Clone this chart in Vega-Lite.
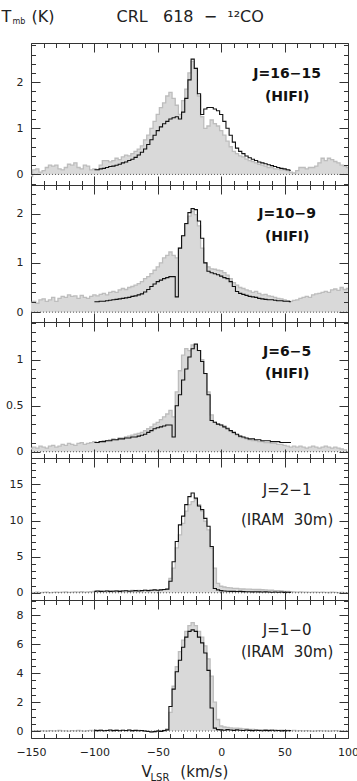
{
"$schema":"https://vega.github.io/schema/vega-lite/v6.json",
"padding":{"left":0,"top":7,"right":0,"bottom":0},
"spacing":0,
"bounds":"flush",
"config":{"view":{"stroke":"#333","strokeWidth":1},"axis":{"grid":false,"domain":false,"tickColor":"#333","tickWidth":1,"labelColor":"#222","labelFont":"DejaVu Sans","labelFontSize":11,"titleFont":"DejaVu Sans","titleColor":"#222","titleFontWeight":"normal"}},
"datasets":{
"obs1":[{"v":-150,"t":-0.05},{"v":-147.5,"t":0.1},{"v":-145,"t":0.12},{"v":-142.5,"t":0.05},{"v":-140,"t":0.08},{"v":-137.5,"t":0.15},{"v":-135,"t":0.2},{"v":-132.5,"t":0.18},{"v":-130,"t":0.2},{"v":-127.5,"t":0.12},{"v":-125,"t":0.1},{"v":-122.5,"t":0.15},{"v":-120,"t":0.22},{"v":-117.5,"t":0.2},{"v":-115,"t":0.25},{"v":-112.5,"t":0.15},{"v":-110,"t":0.12},{"v":-107.5,"t":0.2},{"v":-105,"t":0.18},{"v":-102.5,"t":0.1},{"v":-100,"t":0.12},{"v":-97.5,"t":0.1},{"v":-95,"t":0.2},{"v":-92.5,"t":0.3},{"v":-90,"t":0.3},{"v":-87.5,"t":0.27},{"v":-85,"t":0.3},{"v":-82.5,"t":0.35},{"v":-80,"t":0.32},{"v":-77.5,"t":0.38},{"v":-75,"t":0.42},{"v":-72.5,"t":0.4},{"v":-70,"t":0.45},{"v":-67.5,"t":0.5},{"v":-65,"t":0.55},{"v":-62.5,"t":0.62},{"v":-60,"t":0.75},{"v":-57.5,"t":0.85},{"v":-55,"t":1.0},{"v":-52.5,"t":1.15},{"v":-50,"t":1.3},{"v":-47.5,"t":1.45},{"v":-45,"t":1.55},{"v":-42.5,"t":1.7},{"v":-40,"t":1.78},{"v":-37.5,"t":1.65},{"v":-35,"t":1.5},{"v":-32.5,"t":1.3},{"v":-30,"t":1.6},{"v":-27.5,"t":1.85},{"v":-25,"t":2.2},{"v":-22.5,"t":2.45},{"v":-20,"t":2.3},{"v":-17.5,"t":1.7},{"v":-15,"t":1.25},{"v":-12.5,"t":1.0},{"v":-10,"t":1.05},{"v":-7.5,"t":1.18},{"v":-5,"t":1.1},{"v":-2.5,"t":1.05},{"v":0,"t":0.95},{"v":2.5,"t":0.85},{"v":5,"t":0.72},{"v":7.5,"t":0.6},{"v":10,"t":0.5},{"v":12.5,"t":0.45},{"v":15,"t":0.4},{"v":17.5,"t":0.38},{"v":20,"t":0.33},{"v":22.5,"t":0.3},{"v":25,"t":0.28},{"v":27.5,"t":0.25},{"v":30,"t":0.22},{"v":32.5,"t":0.2},{"v":35,"t":0.18},{"v":37.5,"t":0.15},{"v":40,"t":0.15},{"v":42.5,"t":0.12},{"v":45,"t":0.12},{"v":47.5,"t":0.1},{"v":50,"t":0.1},{"v":52.5,"t":0.08},{"v":55,"t":0.05},{"v":57.5,"t":0.03},{"v":60,"t":0.08},{"v":62.5,"t":0.15},{"v":65,"t":0.15},{"v":67.5,"t":0.12},{"v":70,"t":0.15},{"v":72.5,"t":0.15},{"v":75,"t":0.18},{"v":77.5,"t":0.25},{"v":80,"t":0.35},{"v":82.5,"t":0.3},{"v":85,"t":0.35},{"v":87.5,"t":0.32},{"v":90,"t":0.28},{"v":92.5,"t":0.25},{"v":95,"t":0.2},{"v":97.5,"t":0.18},{"v":100,"t":0.15}],
"mod1":[{"v":-100,"t":0.1},{"v":-97.5,"t":0.1},{"v":-95,"t":0.12},{"v":-92.5,"t":0.13},{"v":-90,"t":0.15},{"v":-87.5,"t":0.17},{"v":-85,"t":0.18},{"v":-82.5,"t":0.2},{"v":-80,"t":0.22},{"v":-77.5,"t":0.25},{"v":-75,"t":0.27},{"v":-72.5,"t":0.3},{"v":-70,"t":0.33},{"v":-67.5,"t":0.37},{"v":-65,"t":0.42},{"v":-62.5,"t":0.48},{"v":-60,"t":0.55},{"v":-57.5,"t":0.65},{"v":-55,"t":0.75},{"v":-52.5,"t":0.85},{"v":-50,"t":0.95},{"v":-47.5,"t":1.03},{"v":-45,"t":1.1},{"v":-42.5,"t":1.15},{"v":-40,"t":1.2},{"v":-37.5,"t":1.23},{"v":-35,"t":1.25},{"v":-32.5,"t":1.2},{"v":-30,"t":1.35},{"v":-27.5,"t":1.65},{"v":-25,"t":2.05},{"v":-22.5,"t":2.5},{"v":-20,"t":2.3},{"v":-17.5,"t":1.75},{"v":-15,"t":1.3},{"v":-12.5,"t":1.42},{"v":-10,"t":1.45},{"v":-7.5,"t":1.45},{"v":-5,"t":1.42},{"v":-2.5,"t":1.38},{"v":0,"t":1.3},{"v":2.5,"t":1.15},{"v":5,"t":1.0},{"v":7.5,"t":0.85},{"v":10,"t":0.7},{"v":12.5,"t":0.57},{"v":15,"t":0.5},{"v":17.5,"t":0.45},{"v":20,"t":0.4},{"v":22.5,"t":0.36},{"v":25,"t":0.33},{"v":27.5,"t":0.3},{"v":30,"t":0.27},{"v":32.5,"t":0.25},{"v":35,"t":0.23},{"v":37.5,"t":0.21},{"v":40,"t":0.19},{"v":42.5,"t":0.17},{"v":45,"t":0.15},{"v":47.5,"t":0.13},{"v":50,"t":0.12},{"v":52.5,"t":0.1},{"v":55,"t":0.09}],
"obs2":[{"v":-150,"t":0.2},{"v":-147.5,"t":0.22},{"v":-145,"t":0.18},{"v":-142.5,"t":0.25},{"v":-140,"t":0.27},{"v":-137.5,"t":0.22},{"v":-135,"t":0.25},{"v":-132.5,"t":0.3},{"v":-130,"t":0.22},{"v":-127.5,"t":0.28},{"v":-125,"t":0.32},{"v":-122.5,"t":0.3},{"v":-120,"t":0.35},{"v":-117.5,"t":0.32},{"v":-115,"t":0.33},{"v":-112.5,"t":0.28},{"v":-110,"t":0.34},{"v":-107.5,"t":0.3},{"v":-105,"t":0.28},{"v":-102.5,"t":0.32},{"v":-100,"t":0.35},{"v":-97.5,"t":0.33},{"v":-95,"t":0.36},{"v":-92.5,"t":0.38},{"v":-90,"t":0.35},{"v":-87.5,"t":0.4},{"v":-85,"t":0.42},{"v":-82.5,"t":0.4},{"v":-80,"t":0.45},{"v":-77.5,"t":0.48},{"v":-75,"t":0.46},{"v":-72.5,"t":0.5},{"v":-70,"t":0.52},{"v":-67.5,"t":0.55},{"v":-65,"t":0.58},{"v":-62.5,"t":0.62},{"v":-60,"t":0.68},{"v":-57.5,"t":0.72},{"v":-55,"t":0.78},{"v":-52.5,"t":0.85},{"v":-50,"t":0.92},{"v":-47.5,"t":1.0},{"v":-45,"t":1.1},{"v":-42.5,"t":1.15},{"v":-40,"t":1.22},{"v":-37.5,"t":1.15},{"v":-35,"t":1.1},{"v":-32.5,"t":1.3},{"v":-30,"t":1.55},{"v":-27.5,"t":1.78},{"v":-25,"t":1.95},{"v":-22.5,"t":2.05},{"v":-20,"t":1.98},{"v":-17.5,"t":1.75},{"v":-15,"t":1.3},{"v":-12.5,"t":1.0},{"v":-10,"t":0.92},{"v":-7.5,"t":0.88},{"v":-5,"t":0.87},{"v":-2.5,"t":0.85},{"v":0,"t":0.84},{"v":2.5,"t":0.8},{"v":5,"t":0.75},{"v":7.5,"t":0.68},{"v":10,"t":0.6},{"v":12.5,"t":0.55},{"v":15,"t":0.5},{"v":17.5,"t":0.48},{"v":20,"t":0.45},{"v":22.5,"t":0.43},{"v":25,"t":0.4},{"v":27.5,"t":0.42},{"v":30,"t":0.38},{"v":32.5,"t":0.35},{"v":35,"t":0.36},{"v":37.5,"t":0.33},{"v":40,"t":0.32},{"v":42.5,"t":0.3},{"v":45,"t":0.28},{"v":47.5,"t":0.27},{"v":50,"t":0.25},{"v":52.5,"t":0.23},{"v":55,"t":0.22},{"v":57.5,"t":0.24},{"v":60,"t":0.25},{"v":62.5,"t":0.28},{"v":65,"t":0.3},{"v":67.5,"t":0.32},{"v":70,"t":0.3},{"v":72.5,"t":0.35},{"v":75,"t":0.37},{"v":77.5,"t":0.38},{"v":80,"t":0.4},{"v":82.5,"t":0.42},{"v":85,"t":0.4},{"v":87.5,"t":0.45},{"v":90,"t":0.47},{"v":92.5,"t":0.44},{"v":95,"t":0.5},{"v":97.5,"t":0.46},{"v":100,"t":0.48}],
"mod2":[{"v":-100,"t":0.21},{"v":-97.5,"t":0.21},{"v":-95,"t":0.22},{"v":-92.5,"t":0.22},{"v":-90,"t":0.23},{"v":-87.5,"t":0.24},{"v":-85,"t":0.25},{"v":-82.5,"t":0.26},{"v":-80,"t":0.27},{"v":-77.5,"t":0.28},{"v":-75,"t":0.29},{"v":-72.5,"t":0.3},{"v":-70,"t":0.32},{"v":-67.5,"t":0.33},{"v":-65,"t":0.35},{"v":-62.5,"t":0.37},{"v":-60,"t":0.41},{"v":-57.5,"t":0.46},{"v":-55,"t":0.52},{"v":-52.5,"t":0.57},{"v":-50,"t":0.62},{"v":-47.5,"t":0.65},{"v":-45,"t":0.68},{"v":-42.5,"t":0.7},{"v":-40,"t":0.72},{"v":-37.5,"t":0.72},{"v":-35,"t":0.31},{"v":-32.5,"t":1.3},{"v":-30,"t":1.55},{"v":-27.5,"t":1.8},{"v":-25,"t":2.02},{"v":-22.5,"t":2.1},{"v":-20,"t":2.08},{"v":-17.5,"t":1.85},{"v":-15,"t":1.5},{"v":-12.5,"t":1.0},{"v":-10,"t":0.83},{"v":-7.5,"t":0.8},{"v":-5,"t":0.78},{"v":-2.5,"t":0.76},{"v":0,"t":0.73},{"v":2.5,"t":0.7},{"v":5,"t":0.68},{"v":7.5,"t":0.62},{"v":10,"t":0.52},{"v":12.5,"t":0.42},{"v":15,"t":0.38},{"v":17.5,"t":0.36},{"v":20,"t":0.34},{"v":22.5,"t":0.32},{"v":25,"t":0.31},{"v":27.5,"t":0.3},{"v":30,"t":0.28},{"v":32.5,"t":0.27},{"v":35,"t":0.26},{"v":37.5,"t":0.25},{"v":40,"t":0.25},{"v":42.5,"t":0.24},{"v":45,"t":0.23},{"v":47.5,"t":0.23},{"v":50,"t":0.22},{"v":52.5,"t":0.22},{"v":55,"t":0.21}],
"obs3":[{"v":-150,"t":0.04},{"v":-147.5,"t":0.05},{"v":-145,"t":0.04},{"v":-142.5,"t":0.06},{"v":-140,"t":0.05},{"v":-137.5,"t":0.04},{"v":-135,"t":0.06},{"v":-132.5,"t":0.07},{"v":-130,"t":0.05},{"v":-127.5,"t":0.06},{"v":-125,"t":0.08},{"v":-122.5,"t":0.07},{"v":-120,"t":0.09},{"v":-117.5,"t":0.08},{"v":-115,"t":0.07},{"v":-112.5,"t":0.09},{"v":-110,"t":0.1},{"v":-107.5,"t":0.08},{"v":-105,"t":0.09},{"v":-102.5,"t":0.1},{"v":-100,"t":0.11},{"v":-97.5,"t":0.1},{"v":-95,"t":0.11},{"v":-92.5,"t":0.12},{"v":-90,"t":0.12},{"v":-87.5,"t":0.13},{"v":-85,"t":0.14},{"v":-82.5,"t":0.13},{"v":-80,"t":0.15},{"v":-77.5,"t":0.15},{"v":-75,"t":0.16},{"v":-72.5,"t":0.17},{"v":-70,"t":0.18},{"v":-67.5,"t":0.19},{"v":-65,"t":0.2},{"v":-62.5,"t":0.21},{"v":-60,"t":0.23},{"v":-57.5,"t":0.25},{"v":-55,"t":0.27},{"v":-52.5,"t":0.3},{"v":-50,"t":0.32},{"v":-47.5,"t":0.35},{"v":-45,"t":0.38},{"v":-42.5,"t":0.41},{"v":-40,"t":0.45},{"v":-37.5,"t":0.38},{"v":-35,"t":0.65},{"v":-32.5,"t":0.88},{"v":-30,"t":1.05},{"v":-27.5,"t":1.12},{"v":-25,"t":1.1},{"v":-22.5,"t":1.16},{"v":-20,"t":1.15},{"v":-17.5,"t":1.1},{"v":-15,"t":1.0},{"v":-12.5,"t":0.85},{"v":-10,"t":0.65},{"v":-7.5,"t":0.4},{"v":-5,"t":0.32},{"v":-2.5,"t":0.3},{"v":0,"t":0.29},{"v":2.5,"t":0.28},{"v":5,"t":0.26},{"v":7.5,"t":0.23},{"v":10,"t":0.2},{"v":12.5,"t":0.18},{"v":15,"t":0.16},{"v":17.5,"t":0.15},{"v":20,"t":0.14},{"v":22.5,"t":0.13},{"v":25,"t":0.12},{"v":27.5,"t":0.12},{"v":30,"t":0.11},{"v":32.5,"t":0.11},{"v":35,"t":0.1},{"v":37.5,"t":0.1},{"v":40,"t":0.09},{"v":42.5,"t":0.09},{"v":45,"t":0.08},{"v":47.5,"t":0.08},{"v":50,"t":0.07},{"v":52.5,"t":0.06},{"v":55,"t":0.05},{"v":57.5,"t":0.06},{"v":60,"t":0.05},{"v":62.5,"t":0.06},{"v":65,"t":0.05},{"v":67.5,"t":0.04},{"v":70,"t":0.05},{"v":72.5,"t":0.06},{"v":75,"t":0.05},{"v":77.5,"t":0.04},{"v":80,"t":0.05},{"v":82.5,"t":0.06},{"v":85,"t":0.05},{"v":87.5,"t":0.04},{"v":90,"t":0.05},{"v":92.5,"t":0.04},{"v":95,"t":0.03},{"v":97.5,"t":0.02},{"v":100,"t":0.0}],
"mod3":[{"v":-100,"t":0.1},{"v":-97.5,"t":0.1},{"v":-95,"t":0.11},{"v":-92.5,"t":0.11},{"v":-90,"t":0.12},{"v":-87.5,"t":0.12},{"v":-85,"t":0.13},{"v":-82.5,"t":0.13},{"v":-80,"t":0.14},{"v":-77.5,"t":0.14},{"v":-75,"t":0.15},{"v":-72.5,"t":0.15},{"v":-70,"t":0.16},{"v":-67.5,"t":0.16},{"v":-65,"t":0.17},{"v":-62.5,"t":0.18},{"v":-60,"t":0.19},{"v":-57.5,"t":0.21},{"v":-55,"t":0.23},{"v":-52.5,"t":0.25},{"v":-50,"t":0.26},{"v":-47.5,"t":0.27},{"v":-45,"t":0.28},{"v":-42.5,"t":0.29},{"v":-40,"t":0.29},{"v":-37.5,"t":0.16},{"v":-35,"t":0.5},{"v":-32.5,"t":0.62},{"v":-30,"t":0.78},{"v":-27.5,"t":0.9},{"v":-25,"t":1.03},{"v":-22.5,"t":1.12},{"v":-20,"t":1.17},{"v":-17.5,"t":1.1},{"v":-15,"t":0.98},{"v":-12.5,"t":0.85},{"v":-10,"t":0.62},{"v":-7.5,"t":0.34},{"v":-5,"t":0.32},{"v":-2.5,"t":0.3},{"v":0,"t":0.29},{"v":2.5,"t":0.27},{"v":5,"t":0.25},{"v":7.5,"t":0.23},{"v":10,"t":0.21},{"v":12.5,"t":0.19},{"v":15,"t":0.17},{"v":17.5,"t":0.16},{"v":20,"t":0.15},{"v":22.5,"t":0.14},{"v":25,"t":0.14},{"v":27.5,"t":0.13},{"v":30,"t":0.13},{"v":32.5,"t":0.12},{"v":35,"t":0.12},{"v":37.5,"t":0.12},{"v":40,"t":0.11},{"v":42.5,"t":0.11},{"v":45,"t":0.11},{"v":47.5,"t":0.1},{"v":50,"t":0.1},{"v":52.5,"t":0.1},{"v":55,"t":0.1}],
"obs4":[{"v":-150,"t":0.05},{"v":-147.5,"t":0.0},{"v":-145,"t":0.08},{"v":-142.5,"t":0.02},{"v":-140,"t":0.05},{"v":-137.5,"t":0.1},{"v":-135,"t":0.03},{"v":-132.5,"t":0.06},{"v":-130,"t":0.1},{"v":-127.5,"t":0.05},{"v":-125,"t":0.08},{"v":-122.5,"t":0.12},{"v":-120,"t":0.06},{"v":-117.5,"t":0.1},{"v":-115,"t":0.12},{"v":-112.5,"t":0.08},{"v":-110,"t":0.15},{"v":-107.5,"t":0.1},{"v":-105,"t":0.12},{"v":-102.5,"t":0.15},{"v":-100,"t":0.2},{"v":-97.5,"t":0.18},{"v":-95,"t":0.22},{"v":-92.5,"t":0.2},{"v":-90,"t":0.25},{"v":-87.5,"t":0.22},{"v":-85,"t":0.25},{"v":-82.5,"t":0.28},{"v":-80,"t":0.25},{"v":-77.5,"t":0.3},{"v":-75,"t":0.28},{"v":-72.5,"t":0.3},{"v":-70,"t":0.32},{"v":-67.5,"t":0.3},{"v":-65,"t":0.33},{"v":-62.5,"t":0.3},{"v":-60,"t":0.35},{"v":-57.5,"t":0.32},{"v":-55,"t":0.35},{"v":-52.5,"t":0.38},{"v":-50,"t":0.35},{"v":-47.5,"t":0.4},{"v":-45,"t":0.42},{"v":-42.5,"t":0.5},{"v":-40,"t":2.0},{"v":-37.5,"t":3.4},{"v":-35,"t":6.2},{"v":-32.5,"t":8.0},{"v":-30,"t":9.6},{"v":-27.5,"t":11.3},{"v":-25,"t":12.2},{"v":-22.5,"t":12.6},{"v":-20,"t":12.9},{"v":-17.5,"t":12.2},{"v":-15,"t":11.3},{"v":-12.5,"t":9.9},{"v":-10,"t":8.7},{"v":-7.5,"t":6.2},{"v":-5,"t":3.4},{"v":-2.5,"t":1.3},{"v":0,"t":0.9},{"v":2.5,"t":0.8},{"v":5,"t":0.72},{"v":7.5,"t":0.68},{"v":10,"t":0.62},{"v":12.5,"t":0.6},{"v":15,"t":0.55},{"v":17.5,"t":0.52},{"v":20,"t":0.5},{"v":22.5,"t":0.5},{"v":25,"t":0.48},{"v":27.5,"t":0.45},{"v":30,"t":0.45},{"v":32.5,"t":0.42},{"v":35,"t":0.4},{"v":37.5,"t":0.38},{"v":40,"t":0.35},{"v":42.5,"t":0.3},{"v":45,"t":0.28},{"v":47.5,"t":0.25},{"v":50,"t":0.2},{"v":52.5,"t":0.18},{"v":55,"t":0.15},{"v":57.5,"t":0.12},{"v":60,"t":0.1},{"v":62.5,"t":0.12},{"v":65,"t":0.08},{"v":67.5,"t":0.1},{"v":70,"t":0.06},{"v":72.5,"t":0.08},{"v":75,"t":0.1},{"v":77.5,"t":0.05},{"v":80,"t":0.08},{"v":82.5,"t":0.06},{"v":85,"t":0.04},{"v":87.5,"t":0.07},{"v":90,"t":0.05},{"v":92.5,"t":0.03},{"v":95,"t":0.05},{"v":97.5,"t":0.02},{"v":100,"t":0.03}],
"mod4":[{"v":-100,"t":0.2},{"v":-97.5,"t":0.25},{"v":-95,"t":0.2},{"v":-92.5,"t":0.22},{"v":-90,"t":0.25},{"v":-87.5,"t":0.2},{"v":-85,"t":0.22},{"v":-82.5,"t":0.25},{"v":-80,"t":0.2},{"v":-77.5,"t":0.25},{"v":-75,"t":0.28},{"v":-72.5,"t":0.22},{"v":-70,"t":0.25},{"v":-67.5,"t":0.3},{"v":-65,"t":0.25},{"v":-62.5,"t":0.3},{"v":-60,"t":0.35},{"v":-57.5,"t":0.3},{"v":-55,"t":0.35},{"v":-52.5,"t":0.4},{"v":-50,"t":0.35},{"v":-47.5,"t":0.4},{"v":-45,"t":0.45},{"v":-42.5,"t":0.5},{"v":-40,"t":1.6},{"v":-37.5,"t":4.3},{"v":-35,"t":7.1},{"v":-32.5,"t":9.4},{"v":-30,"t":10.6},{"v":-27.5,"t":12.2},{"v":-25,"t":13.3},{"v":-22.5,"t":13.8},{"v":-20,"t":13.1},{"v":-17.5,"t":12.0},{"v":-15,"t":11.5},{"v":-12.5,"t":10.3},{"v":-10,"t":9.2},{"v":-7.5,"t":6.4},{"v":-5,"t":0.6},{"v":-2.5,"t":0.4},{"v":0,"t":0.3},{"v":2.5,"t":0.25},{"v":5,"t":0.22},{"v":7.5,"t":0.2},{"v":10,"t":0.2},{"v":12.5,"t":0.18},{"v":15,"t":0.2},{"v":17.5,"t":0.16},{"v":20,"t":0.15},{"v":22.5,"t":0.15},{"v":25,"t":0.12},{"v":27.5,"t":0.14},{"v":30,"t":0.12},{"v":32.5,"t":0.1},{"v":35,"t":0.12},{"v":37.5,"t":0.1},{"v":40,"t":0.08},{"v":42.5,"t":0.1},{"v":45,"t":0.08},{"v":47.5,"t":0.1},{"v":50,"t":0.06},{"v":52.5,"t":0.08},{"v":55,"t":0.05}],
"obs5":[{"v":-150,"t":0.02},{"v":-147.5,"t":0.0},{"v":-145,"t":0.03},{"v":-142.5,"t":0.01},{"v":-140,"t":0.02},{"v":-137.5,"t":0.0},{"v":-135,"t":0.03},{"v":-132.5,"t":0.01},{"v":-130,"t":0.02},{"v":-127.5,"t":0.04},{"v":-125,"t":0.01},{"v":-122.5,"t":0.02},{"v":-120,"t":0.0},{"v":-117.5,"t":0.03},{"v":-115,"t":0.02},{"v":-112.5,"t":0.04},{"v":-110,"t":0.02},{"v":-107.5,"t":0.0},{"v":-105,"t":0.03},{"v":-102.5,"t":0.05},{"v":-100,"t":0.02},{"v":-97.5,"t":0.04},{"v":-95,"t":0.06},{"v":-92.5,"t":0.03},{"v":-90,"t":0.05},{"v":-87.5,"t":0.02},{"v":-85,"t":0.04},{"v":-82.5,"t":0.06},{"v":-80,"t":0.03},{"v":-77.5,"t":0.05},{"v":-75,"t":0.02},{"v":-72.5,"t":0.04},{"v":-70,"t":0.0},{"v":-67.5,"t":0.03},{"v":-65,"t":0.05},{"v":-62.5,"t":0.02},{"v":-60,"t":-0.02},{"v":-57.5,"t":0.0},{"v":-55,"t":-0.05},{"v":-52.5,"t":-0.03},{"v":-50,"t":0.0},{"v":-47.5,"t":0.02},{"v":-45,"t":0.05},{"v":-42.5,"t":0.15},{"v":-40,"t":1.3},{"v":-37.5,"t":3.1},{"v":-35,"t":4.45},{"v":-32.5,"t":5.5},{"v":-30,"t":6.3},{"v":-27.5,"t":6.9},{"v":-25,"t":7.3},{"v":-22.5,"t":7.5},{"v":-20,"t":7.3},{"v":-17.5,"t":6.9},{"v":-15,"t":6.5},{"v":-12.5,"t":5.9},{"v":-10,"t":5.0},{"v":-7.5,"t":3.8},{"v":-5,"t":2.0},{"v":-2.5,"t":0.8},{"v":0,"t":0.35},{"v":2.5,"t":0.28},{"v":5,"t":0.25},{"v":7.5,"t":0.22},{"v":10,"t":0.2},{"v":12.5,"t":0.2},{"v":15,"t":0.18},{"v":17.5,"t":0.15},{"v":20,"t":0.15},{"v":22.5,"t":0.12},{"v":25,"t":0.12},{"v":27.5,"t":0.1},{"v":30,"t":0.1},{"v":32.5,"t":0.08},{"v":35,"t":0.1},{"v":37.5,"t":0.08},{"v":40,"t":0.06},{"v":42.5,"t":0.08},{"v":45,"t":0.05},{"v":47.5,"t":0.06},{"v":50,"t":0.04},{"v":52.5,"t":0.05},{"v":55,"t":0.03},{"v":57.5,"t":0.04},{"v":60,"t":0.02},{"v":62.5,"t":0.03},{"v":65,"t":0.01},{"v":67.5,"t":0.03},{"v":70,"t":0.02},{"v":72.5,"t":0.0},{"v":75,"t":0.02},{"v":77.5,"t":0.03},{"v":80,"t":0.01},{"v":82.5,"t":0.02},{"v":85,"t":0.0},{"v":87.5,"t":0.02},{"v":90,"t":0.03},{"v":92.5,"t":0.01},{"v":95,"t":0.02},{"v":97.5,"t":0.0},{"v":100,"t":0.01}],
"mod5":[{"v":-100,"t":0.05},{"v":-97.5,"t":0.03},{"v":-95,"t":0.06},{"v":-92.5,"t":0.02},{"v":-90,"t":0.04},{"v":-87.5,"t":0.07},{"v":-85,"t":0.03},{"v":-82.5,"t":0.05},{"v":-80,"t":0.02},{"v":-77.5,"t":0.06},{"v":-75,"t":0.04},{"v":-72.5,"t":0.07},{"v":-70,"t":0.03},{"v":-67.5,"t":0.05},{"v":-65,"t":0.02},{"v":-62.5,"t":0.04},{"v":-60,"t":0.0},{"v":-57.5,"t":-0.03},{"v":-55,"t":-0.06},{"v":-52.5,"t":-0.04},{"v":-50,"t":0.0},{"v":-47.5,"t":-0.02},{"v":-45,"t":0.03},{"v":-42.5,"t":0.08},{"v":-40,"t":1.7},{"v":-37.5,"t":2.9},{"v":-35,"t":4.1},{"v":-32.5,"t":4.9},{"v":-30,"t":5.8},{"v":-27.5,"t":6.5},{"v":-25,"t":6.9},{"v":-22.5,"t":7.0},{"v":-20,"t":6.9},{"v":-17.5,"t":6.5},{"v":-15,"t":6.1},{"v":-12.5,"t":5.4},{"v":-10,"t":4.2},{"v":-7.5,"t":1.6},{"v":-5,"t":0.2},{"v":-2.5,"t":0.1},{"v":0,"t":0.08},{"v":2.5,"t":0.06},{"v":5,"t":0.1},{"v":7.5,"t":0.07},{"v":10,"t":0.05},{"v":12.5,"t":0.08},{"v":15,"t":0.06},{"v":17.5,"t":0.04},{"v":20,"t":0.07},{"v":22.5,"t":0.05},{"v":25,"t":0.03},{"v":27.5,"t":0.06},{"v":30,"t":0.04},{"v":32.5,"t":0.02},{"v":35,"t":0.05},{"v":37.5,"t":0.03},{"v":40,"t":0.06},{"v":42.5,"t":0.02},{"v":45,"t":0.04},{"v":47.5,"t":0.01},{"v":50,"t":0.03},{"v":52.5,"t":0.02},{"v":55,"t":0.03}]
},
"vconcat":[
{"width":317,"height":142,"resolve":{"axis":{"x":"independent","y":"independent"}},
"layer":[
{"data":{"name":"obs1"},"mark":{"type":"area","interpolate":"step","color":"#d9d9d9"},
"encoding":{"x":{"field":"v","type":"quantitative","scale":{"domain":[-150,100],"nice":false},"axis":{"orient":"bottom","values":[-150,-100,-50,0,50,100],"tickSize":-9,"labels":false,"title":null,"zindex":1}},
"y":{"field":"t","type":"quantitative","scale":{"domain":[-0.23,2.85],"nice":false,"zero":false},"axis":{"orient":"left","values":[0,1,2],"tickSize":-9,"labelPadding":17,"format":"~g","zindex":1,"title":"T\u00a0\u00a0\u00a0\u00a0(K)","titleAngle":0,"titleAlign":"left","titleBaseline":"alphabetic","titleX":-30,"titleY":-22,"titleFontSize":16}},
"y2":{"datum":0}}},
{"data":{"name":"obs1"},"mark":{"type":"line","interpolate":"step","color":"#bdbdbd","strokeWidth":1.3},
"encoding":{"x":{"field":"v","type":"quantitative","axis":{"orient":"bottom","values":[-140,-130,-120,-110,-90,-80,-70,-60,-40,-30,-20,-10,10,20,30,40,60,70,80,90],"tickSize":-4.5,"labels":false,"title":null,"zindex":1}},
"y":{"field":"t","type":"quantitative","axis":{"orient":"left","values":[-0.2,0.2,0.4,0.6,0.8,1.2,1.4,1.6,1.8,2.2,2.4,2.6,2.8],"tickSize":-4.5,"labels":false,"zindex":1,"title":"mb","titleAngle":0,"titleAlign":"left","titleBaseline":"alphabetic","titleX":-19,"titleY":-19.5,"titleFontSize":8}}}},
{"data":{"values":[{}]},"mark":{"type":"rule","strokeDash":[1,2],"color":"#555"},
"encoding":{"x":{"datum":-150,"type":"quantitative","axis":{"orient":"top","values":[-150,-100,-50,0,50,100],"tickSize":-9,"labels":false,"zindex":1,"title":"CRL\u00a0\u00a0\u00a0618\u00a0\u00a0\u2212\u00a0\u00a0\u00b9\u00b2CO","titleX":85,"titleY":-22,"titleAlign":"left","titleBaseline":"alphabetic","titleFontSize":16}},"x2":{"datum":100},
"y":{"datum":0,"type":"quantitative","axis":{"orient":"right","values":[0,1,2],"tickSize":-9,"labels":false,"title":null,"zindex":1}}}},
{"data":{"name":"mod1"},"mark":{"type":"line","interpolate":"step","color":"#111","strokeWidth":1.1},
"encoding":{"x":{"field":"v","type":"quantitative","axis":{"orient":"top","values":[-140,-130,-120,-110,-90,-80,-70,-60,-40,-30,-20,-10,10,20,30,40,60,70,80,90],"tickSize":-4.5,"labels":false,"title":null,"zindex":1}},
"y":{"field":"t","type":"quantitative","axis":{"orient":"right","values":[-0.2,0.2,0.4,0.6,0.8,1.2,1.4,1.6,1.8,2.2,2.4,2.6,2.8],"tickSize":-4.5,"labels":false,"title":null,"zindex":1}}}},
{"data":{"values":[{}]},"mark":{"type":"text","align":"center","baseline":"top","font":"DejaVu Sans","fontWeight":"bold","fontSize":14,"color":"#111"},
"encoding":{"x":{"datum":52,"type":"quantitative","axis":null},"y":{"datum":2.34,"type":"quantitative","axis":null},"text":{"value":"J=16\u221215"}}},
{"data":{"values":[{}]},"mark":{"type":"text","align":"center","baseline":"top","font":"DejaVu Sans","fontWeight":"bold","fontSize":14,"color":"#111"},
"encoding":{"x":{"datum":52,"type":"quantitative","axis":null},"y":{"datum":1.83,"type":"quantitative","axis":null},"text":{"value":"(HIFI)"}}}
]},
{"width":317,"height":137,"resolve":{"axis":{"x":"independent","y":"independent"}},
"layer":[
{"data":{"name":"obs2"},"mark":{"type":"area","interpolate":"step","color":"#d9d9d9"},
"encoding":{"x":{"field":"v","type":"quantitative","scale":{"domain":[-150,100],"nice":false},"axis":{"orient":"bottom","values":[-150,-100,-50,0,50,100],"tickSize":-9,"labels":false,"title":null,"zindex":1}},
"y":{"field":"t","type":"quantitative","scale":{"domain":[-0.2,2.58],"nice":false,"zero":false},"axis":{"orient":"left","values":[0,1,2],"tickSize":-9,"labelPadding":17,"format":"~g","zindex":1,"title":null}},
"y2":{"datum":0}}},
{"data":{"name":"obs2"},"mark":{"type":"line","interpolate":"step","color":"#bdbdbd","strokeWidth":1.3},
"encoding":{"x":{"field":"v","type":"quantitative","axis":{"orient":"bottom","values":[-140,-130,-120,-110,-90,-80,-70,-60,-40,-30,-20,-10,10,20,30,40,60,70,80,90],"tickSize":-4.5,"labels":false,"title":null,"zindex":1}},
"y":{"field":"t","type":"quantitative","axis":{"orient":"left","values":[0.2,0.4,0.6,0.8,1.2,1.4,1.6,1.8,2.2,2.4],"tickSize":-4.5,"labels":false,"title":null,"zindex":1}}}},
{"data":{"values":[{}]},"mark":{"type":"rule","strokeDash":[1,2],"color":"#555"},
"encoding":{"x":{"datum":-150,"type":"quantitative","axis":{"orient":"top","values":[-150,-100,-50,0,50,100],"tickSize":-9,"labels":false,"title":null,"zindex":1}},"x2":{"datum":100},
"y":{"datum":0,"type":"quantitative","axis":{"orient":"right","values":[0,1,2],"tickSize":-9,"labels":false,"title":null,"zindex":1}}}},
{"data":{"name":"mod2"},"mark":{"type":"line","interpolate":"step","color":"#111","strokeWidth":1.1},
"encoding":{"x":{"field":"v","type":"quantitative","axis":{"orient":"top","values":[-140,-130,-120,-110,-90,-80,-70,-60,-40,-30,-20,-10,10,20,30,40,60,70,80,90],"tickSize":-4.5,"labels":false,"title":null,"zindex":1}},
"y":{"field":"t","type":"quantitative","axis":{"orient":"right","values":[0.2,0.4,0.6,0.8,1.2,1.4,1.6,1.8,2.2,2.4],"tickSize":-4.5,"labels":false,"title":null,"zindex":1}}}},
{"data":{"values":[{}]},"mark":{"type":"text","align":"center","baseline":"top","font":"DejaVu Sans","fontWeight":"bold","fontSize":14,"color":"#111"},
"encoding":{"x":{"datum":52,"type":"quantitative","axis":null},"y":{"datum":2.14,"type":"quantitative","axis":null},"text":{"value":"J=10\u22129"}}},
{"data":{"values":[{}]},"mark":{"type":"text","align":"center","baseline":"top","font":"DejaVu Sans","fontWeight":"bold","fontSize":14,"color":"#111"},
"encoding":{"x":{"datum":52,"type":"quantitative","axis":null},"y":{"datum":1.67,"type":"quantitative","axis":null},"text":{"value":"(HIFI)"}}}
]},
{"width":317,"height":136,"resolve":{"axis":{"x":"independent","y":"independent"}},
"layer":[
{"data":{"name":"obs3"},"mark":{"type":"area","interpolate":"step","color":"#d9d9d9"},
"encoding":{"x":{"field":"v","type":"quantitative","scale":{"domain":[-150,100],"nice":false},"axis":{"orient":"bottom","values":[-150,-100,-50,0,50,100],"tickSize":-9,"labels":false,"title":null,"zindex":1}},
"y":{"field":"t","type":"quantitative","scale":{"domain":[-0.068,1.41],"nice":false,"zero":false},"axis":{"orient":"left","values":[0,0.5,1],"tickSize":-9,"labelPadding":17,"format":"~g","zindex":1,"title":null}},
"y2":{"datum":0}}},
{"data":{"name":"obs3"},"mark":{"type":"line","interpolate":"step","color":"#bdbdbd","strokeWidth":1.3},
"encoding":{"x":{"field":"v","type":"quantitative","axis":{"orient":"bottom","values":[-140,-130,-120,-110,-90,-80,-70,-60,-40,-30,-20,-10,10,20,30,40,60,70,80,90],"tickSize":-4.5,"labels":false,"title":null,"zindex":1}},
"y":{"field":"t","type":"quantitative","axis":{"orient":"left","values":[0.1,0.2,0.3,0.4,0.6,0.7,0.8,0.9,1.1,1.2,1.3,1.4],"tickSize":-4.5,"labels":false,"title":null,"zindex":1}}}},
{"data":{"values":[{}]},"mark":{"type":"rule","strokeDash":[1,2],"color":"#555"},
"encoding":{"x":{"datum":-150,"type":"quantitative","axis":{"orient":"top","values":[-150,-100,-50,0,50,100],"tickSize":-9,"labels":false,"title":null,"zindex":1}},"x2":{"datum":100},
"y":{"datum":0,"type":"quantitative","axis":{"orient":"right","values":[0,0.5,1],"tickSize":-9,"labels":false,"title":null,"zindex":1}}}},
{"data":{"name":"mod3"},"mark":{"type":"line","interpolate":"step","color":"#111","strokeWidth":1.1},
"encoding":{"x":{"field":"v","type":"quantitative","axis":{"orient":"top","values":[-140,-130,-120,-110,-90,-80,-70,-60,-40,-30,-20,-10,10,20,30,40,60,70,80,90],"tickSize":-4.5,"labels":false,"title":null,"zindex":1}},
"y":{"field":"t","type":"quantitative","axis":{"orient":"right","values":[0.1,0.2,0.3,0.4,0.6,0.7,0.8,0.9,1.1,1.2,1.3,1.4],"tickSize":-4.5,"labels":false,"title":null,"zindex":1}}}},
{"data":{"values":[{}]},"mark":{"type":"text","align":"center","baseline":"top","font":"DejaVu Sans","fontWeight":"bold","fontSize":14,"color":"#111"},
"encoding":{"x":{"datum":52,"type":"quantitative","axis":null},"y":{"datum":1.16,"type":"quantitative","axis":null},"text":{"value":"J=6\u22125"}}},
{"data":{"values":[{}]},"mark":{"type":"text","align":"center","baseline":"top","font":"DejaVu Sans","fontWeight":"bold","fontSize":14,"color":"#111"},
"encoding":{"x":{"datum":52,"type":"quantitative","axis":null},"y":{"datum":0.924,"type":"quantitative","axis":null},"text":{"value":"(HIFI)"}}}
]},
{"width":317,"height":142,"resolve":{"axis":{"x":"independent","y":"independent"}},
"layer":[
{"data":{"name":"obs4"},"mark":{"type":"area","interpolate":"step","color":"#d9d9d9"},
"encoding":{"x":{"field":"v","type":"quantitative","scale":{"domain":[-150,100],"nice":false},"axis":{"orient":"bottom","values":[-150,-100,-50,0,50,100],"tickSize":-9,"labels":false,"title":null,"zindex":1}},
"y":{"field":"t","type":"quantitative","scale":{"domain":[-1,18.65],"nice":false,"zero":false},"axis":{"orient":"left","values":[0,5,10,15],"tickSize":-9,"labelPadding":17,"format":"~g","zindex":1,"title":null}},
"y2":{"datum":0}}},
{"data":{"name":"obs4"},"mark":{"type":"line","interpolate":"step","color":"#bdbdbd","strokeWidth":1.3},
"encoding":{"x":{"field":"v","type":"quantitative","axis":{"orient":"bottom","values":[-140,-130,-120,-110,-90,-80,-70,-60,-40,-30,-20,-10,10,20,30,40,60,70,80,90],"tickSize":-4.5,"labels":false,"title":null,"zindex":1}},
"y":{"field":"t","type":"quantitative","axis":{"orient":"left","values":[1,2,3,4,6,7,8,9,11,12,13,14,16,17,18],"tickSize":-4.5,"labels":false,"title":null,"zindex":1}}}},
{"data":{"values":[{}]},"mark":{"type":"rule","strokeDash":[1,2],"color":"#555"},
"encoding":{"x":{"datum":-150,"type":"quantitative","axis":{"orient":"top","values":[-150,-100,-50,0,50,100],"tickSize":-9,"labels":false,"title":null,"zindex":1}},"x2":{"datum":100},
"y":{"datum":0,"type":"quantitative","axis":{"orient":"right","values":[0,5,10,15],"tickSize":-9,"labels":false,"title":null,"zindex":1}}}},
{"data":{"name":"mod4"},"mark":{"type":"line","interpolate":"step","color":"#111","strokeWidth":1.1},
"encoding":{"x":{"field":"v","type":"quantitative","axis":{"orient":"top","values":[-140,-130,-120,-110,-90,-80,-70,-60,-40,-30,-20,-10,10,20,30,40,60,70,80,90],"tickSize":-4.5,"labels":false,"title":null,"zindex":1}},
"y":{"field":"t","type":"quantitative","axis":{"orient":"right","values":[1,2,3,4,6,7,8,9,11,12,13,14,16,17,18],"tickSize":-4.5,"labels":false,"title":null,"zindex":1}}}},
{"data":{"values":[{}]},"mark":{"type":"text","align":"center","baseline":"top","font":"DejaVu Sans","fontSize":15,"color":"#222"},
"encoding":{"x":{"datum":52,"type":"quantitative","axis":null},"y":{"datum":15.15,"type":"quantitative","axis":null},"text":{"value":"J=2\u22121"}}},
{"data":{"values":[{}]},"mark":{"type":"text","align":"center","baseline":"top","font":"DejaVu Sans","fontSize":15,"color":"#222"},
"encoding":{"x":{"datum":52,"type":"quantitative","axis":null},"y":{"datum":11.04,"type":"quantitative","axis":null},"text":{"value":"(IRAM\u00a0\u00a030m)"}}}
]},
{"width":317,"height":138,"resolve":{"axis":{"x":"independent","y":"independent"}},
"layer":[
{"data":{"name":"obs5"},"mark":{"type":"area","interpolate":"step","color":"#d9d9d9"},
"encoding":{"x":{"field":"v","type":"quantitative","scale":{"domain":[-150,100],"nice":false},"axis":{"orient":"bottom","values":[-150,-100,-50,0,50,100],"tickSize":-9,"labels":true,"labelPadding":17,"labelOverlap":false,"labelFlush":false,"format":"d","zindex":1,"title":"V\u00a0\u00a0\u00a0\u00a0\u00a0\u00a0(km/s)","titleX":110,"titleY":38,"titleAlign":"left","titleBaseline":"alphabetic","titleFontSize":15}},
"y":{"field":"t","type":"quantitative","scale":{"domain":[-0.48,9.07],"nice":false,"zero":false},"axis":{"orient":"left","values":[0,2,4,6,8],"tickSize":-9,"labelPadding":17,"format":"~g","zindex":1,"title":null}},
"y2":{"datum":0}}},
{"data":{"name":"obs5"},"mark":{"type":"line","interpolate":"step","color":"#bdbdbd","strokeWidth":1.3},
"encoding":{"x":{"field":"v","type":"quantitative","axis":{"orient":"bottom","values":[-140,-130,-120,-110,-90,-80,-70,-60,-40,-30,-20,-10,10,20,30,40,60,70,80,90],"tickSize":-4.5,"labels":false,"title":null,"zindex":1}},
"y":{"field":"t","type":"quantitative","axis":{"orient":"left","values":[0.5,1,1.5,2.5,3,3.5,4.5,5,5.5,6.5,7,7.5,8.5,9],"tickSize":-4.5,"labels":false,"title":null,"zindex":1}}}},
{"data":{"values":[{}]},"mark":{"type":"rule","strokeDash":[1,2],"color":"#555"},
"encoding":{"x":{"datum":-150,"type":"quantitative","axis":{"orient":"top","values":[-150,-100,-50,0,50,100],"tickSize":-9,"labels":false,"title":null,"zindex":1}},"x2":{"datum":100},
"y":{"datum":0,"type":"quantitative","axis":{"orient":"right","values":[0,2,4,6,8],"tickSize":-9,"labels":false,"title":null,"zindex":1}}}},
{"data":{"name":"mod5"},"mark":{"type":"line","interpolate":"step","color":"#111","strokeWidth":1.1},
"encoding":{"x":{"field":"v","type":"quantitative","axis":{"orient":"top","values":[-140,-130,-120,-110,-90,-80,-70,-60,-40,-30,-20,-10,10,20,30,40,60,70,80,90],"tickSize":-4.5,"labels":false,"title":null,"zindex":1}},
"y":{"field":"t","type":"quantitative","axis":{"orient":"right","values":[0.5,1,1.5,2.5,3,3.5,4.5,5,5.5,6.5,7,7.5,8.5,9],"tickSize":-4.5,"labels":false,"title":null,"zindex":1}}}},
{"data":{"values":[{}]},"mark":{"type":"text","align":"center","baseline":"top","font":"DejaVu Sans","fontSize":15,"color":"#222"},
"encoding":{"x":{"datum":52,"type":"quantitative","axis":{"orient":"bottom","ticks":false,"labels":false,"domain":false,"title":"LSR","titleX":119,"titleY":42,"titleAlign":"left","titleBaseline":"alphabetic","titleFontSize":10}},"y":{"datum":7.45,"type":"quantitative","axis":null},"text":{"value":"J=1\u22120"}}},
{"data":{"values":[{}]},"mark":{"type":"text","align":"center","baseline":"top","font":"DejaVu Sans","fontSize":15,"color":"#222"},
"encoding":{"x":{"datum":52,"type":"quantitative","axis":null},"y":{"datum":5.95,"type":"quantitative","axis":null},"text":{"value":"(IRAM\u00a0\u00a030m)"}}}
]}
]
}
